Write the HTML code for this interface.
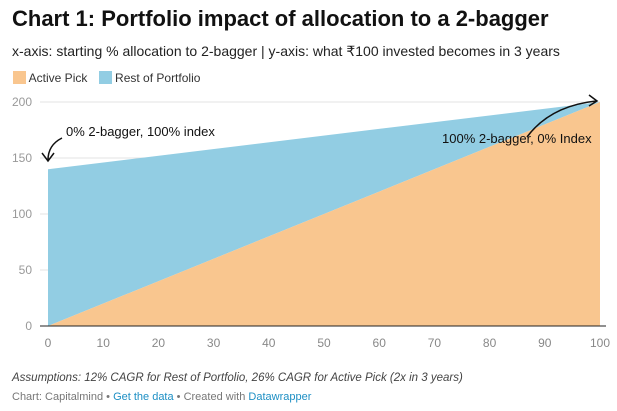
<!DOCTYPE html>
<html><head><meta charset="utf-8"><style>
body{margin:0;width:617px;height:411px;background:#fff;font-family:"Liberation Sans",sans-serif;position:relative;overflow:hidden}
.t{position:absolute;white-space:nowrap}
</style></head><body>
<div class="t" style="left:12px;top:6px;font-size:22px;font-weight:bold;color:#111">Chart 1: Portfolio impact of allocation to a 2-bagger</div>
<div class="t" style="left:12px;top:43px;font-size:14px;color:#222">x-axis: starting % allocation to 2-bagger | y-axis: what ₹100 invested becomes in 3 years</div>
<div class="t" style="left:13px;top:71px;font-size:12px;color:#333">
<span><span style="display:inline-block;width:13px;height:13px;background:#f9c68f;vertical-align:-2px"></span> Active Pick</span>
<span style="margin-left:8px"><span style="display:inline-block;width:13px;height:13px;background:#92cde3;vertical-align:-2px"></span> Rest of Portfolio</span></div>
<svg id="c" width="617" height="411" style="position:absolute;left:0;top:0"></svg>
<div class="t" style="left:12px;top:372px;font-size:11.5px;font-style:italic;color:#444">Assumptions: 12% CAGR for Rest of Portfolio, 26% CAGR for Active Pick (2x in 3 years)</div>
<div class="t" style="left:12px;top:391px;font-size:11px;color:#777">Chart: Capitalmind • <span style="color:#1d8fc4">Get the data</span> • Created with <span style="color:#1d8fc4">Datawrapper</span></div>
<script>
const xs=[0,100];
const activePick=[0,200];
const restPortfolio=[140,0];
const xTicks=[0,10,20,30,40,50,60,70,80,90,100];
const yTicks=[0,50,100,150,200];
const NS="http://www.w3.org/2000/svg";
const svg=document.getElementById('c');
const X=v=>48+v*5.52, Y=v=>326-v*1.12;
function mk(t,a){const e=document.createElementNS(NS,t);for(const k in a)e.setAttribute(k,a[k]);svg.appendChild(e);return e;}
yTicks.forEach(v=>{
 if(v>0){const l=mk('line',{x1:40,x2:600,y1:Y(v),y2:Y(v),stroke:'#e3e3e3'});
 
 }
 const t=mk('text',{x:32,y:Y(v)+4,'text-anchor':'end','font-size':12,fill:'#999','font-family':'Liberation Sans'});t.textContent=v;
 
 
});
const tot=xs.map((x,i)=>activePick[i]+restPortfolio[i]);
let p=xs.map((x,i)=>X(x)+','+Y(tot[i])).join(' ')+' '+xs.slice().reverse().map((x,j)=>{const i=xs.length-1-j;return X(x)+','+Y(activePick[i]);}).join(' ');
const a1=mk('polygon',{points:p,fill:'#92cde3'});


let p2=xs.map((x,i)=>X(x)+','+Y(activePick[i])).join(' ')+' '+X(xs[xs.length-1])+','+Y(0)+' '+X(xs[0])+','+Y(0);
const a2=mk('polygon',{points:p2,fill:'#f9c68f'});


const ax=mk('line',{x1:40,x2:606,y1:Y(0),y2:Y(0),stroke:'#222','stroke-width':1});


xTicks.forEach(v=>{const t=mk('text',{x:X(v),y:347,'text-anchor':'middle','font-size':12,fill:'#888','font-family':'Liberation Sans'});t.textContent=v;
 
 });
function ann(x,y,s,n){const t=mk('text',{x:x,y:y,'font-size':13,fill:'#111','font-family':'Liberation Sans'});t.textContent=s;
 
 }
ann(66,136,'0% 2-bagger, 100% index','annotation-left');
ann(442,143,'100% 2-bagger, 0% Index','annotation-right');
const ar1=mk('path',{d:'M62 138 Q48 145 48 160 M42 153 L48 161 L54 153',fill:'none',stroke:'#111','stroke-width':1.5});


const ar2=mk('path',{d:'M527 137 Q550 106 596 101 M589 95 L597 101 L589 106',fill:'none',stroke:'#111','stroke-width':1.5});


</script>
</body></html>
